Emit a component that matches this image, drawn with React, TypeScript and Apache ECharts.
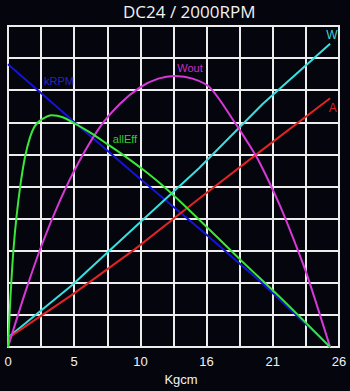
import React, { useEffect, useRef } from "react";
import * as echarts from "echarts";

// Motor characteristic curves, plotted as percent of full vertical scale
const chartTitle = "DC24 / 2000RPM";
const xAxisName = "Kgcm";
const xTickLabels = ["0", "5", "10", "16", "21", "26"];

const rpmTorque = [0, 5, 10, 15, 20, 25.3];
const rpmValues = [88.1, 70.8, 53.7, 37.0, 19.8, 0];

const effTorque = [0, 0.2, 0.43, 0.68, 1.0, 1.34, 1.73, 2.12, 2.65, 3.43, 4.3, 5.26, 6.5, 7.88, 9.2, 10.5, 11.94, 13.75, 16, 18.2, 21.4, 25.3];
const effValues = [0, 16.1, 30.4, 41.0, 51.2, 59.3, 65.3, 68.9, 70.9, 72.2, 71.6, 69.6, 66.7, 63.0, 59.4, 55.6, 51.0, 44.5, 35.9, 27.4, 15.4, 0];

const woutTorque = [0, 1.34, 2.65, 4.08, 5.5, 7.23, 8.8, 10.37, 11.8, 13.12, 14.5, 15.87, 17.67, 18.85, 19.8, 21.37, 22.54, 23.46, 25.3];
const woutValues = [0, 16.9, 31.8, 45.6, 57.2, 68.6, 75.8, 80.9, 83.6, 84.4, 83.6, 80.8, 70.8, 63.6, 57.2, 44.0, 32.5, 22.8, 0];

const wTorque = [0, 5, 10, 15, 20, 25.3];
const wValues = [3.0, 19.2, 37.5, 55.7, 75.7, 94.5];

const aTorque = [0, 5, 10, 15, 20, 25.3];
const aValues = [2.8, 16.2, 30.6, 46.2, 61.5, 77.5];

const pairs = (xs: number[], ys: number[]) => xs.map((x, i) => [x, ys[i]]);

type Curve = {
  name: string;
  color: string;
  textColor: string;
  data: number[][];
  smooth: number | boolean;
  labelAt: number[];
  labelSize: number;
};

const curves: Curve[] = [
  { name: "kRPM", color: "#1414d8", textColor: "#2424c8", data: pairs(rpmTorque, rpmValues), smooth: false, labelAt: [4.0, 82.8], labelSize: 11 },
  { name: "W", color: "#38e0e0", textColor: "#38d8d8", data: pairs(wTorque, wValues), smooth: false, labelAt: [25.45, 97.2], labelSize: 12 },
  { name: "A", color: "#e02424", textColor: "#d82020", data: pairs(aTorque, aValues), smooth: false, labelAt: [25.5, 74.6], labelSize: 12 },
  { name: "Wout", color: "#d838d8", textColor: "#c830c8", data: pairs(woutTorque, woutValues), smooth: 0.3, labelAt: [14.3, 86.8], labelSize: 11 },
  { name: "allEff", color: "#3ae83a", textColor: "#30d030", data: pairs(effTorque, effValues), smooth: 0.3, labelAt: [9.19, 64.8], labelSize: 11 },
];

export default function App() {
  const ref = useRef<HTMLDivElement>(null);

  useEffect(() => {
    if (!ref.current) return;
    const chart = echarts.init(ref.current, undefined, { renderer: "svg" });
    const gridColor = "#ececec";
    chart.setOption({
      animation: false,
      backgroundColor: "#05050d",
      title: {
        text: chartTitle,
        left: 123,
        top: 3,
        padding: 0,
        textStyle: { color: "#f2f2f2", fontFamily: "Open Sans", fontSize: 17, fontWeight: "normal" },
      },
      grid: {
        left: 8,
        right: 11,
        top: 26,
        bottom: 36,
        show: true,
        borderColor: gridColor,
        borderWidth: 2,
        backgroundColor: "transparent",
      },
      xAxis: {
        type: "value",
        min: 0,
        max: 26,
        interval: 2.6,
        name: xAxisName,
        nameLocation: "middle",
        nameGap: 19,
        nameTextStyle: { color: "#f2f2f2", fontFamily: "Liberation Sans", fontSize: 13, padding: [0, 0, 0, 15] },
        axisLine: { show: false },
        axisTick: { show: false },
        splitLine: { show: true, lineStyle: { color: gridColor, width: 2 } },
        axisLabel: {
          color: "#f2f2f2",
          fontFamily: "Liberation Sans",
          fontSize: 13,
          margin: 8,
          showMinLabel: true,
          showMaxLabel: true,
          formatter: (v: number) => {
            const k = Math.round(v / 2.6);
            return k % 2 === 0 ? xTickLabels[k / 2] : "";
          },
        },
      },
      yAxis: {
        type: "value",
        min: 0,
        max: 100,
        interval: 10,
        axisLine: { show: false },
        axisTick: { show: false },
        axisLabel: { show: false },
        splitLine: { show: true, lineStyle: { color: gridColor, width: 2 } },
      },
      series: curves.map((c) => ({
        name: c.name,
        type: "line",
        data: c.data,
        smooth: c.smooth,
        showSymbol: false,
        lineStyle: { color: c.color, width: 2 },
        itemStyle: { color: c.color },
        markPoint: {
          symbol: "circle",
          symbolSize: 1,
          itemStyle: { color: "transparent" },
          label: {
            show: true,
            position: "inside",
            formatter: c.name,
            color: c.textColor,
            fontFamily: "Liberation Sans",
            fontSize: c.labelSize,
          },
          data: [{ coord: c.labelAt }],
        },
      })),
    });
    return () => chart.dispose();
  }, []);

  return <div ref={ref} style={{ position: "fixed", left: 0, top: 0, width: 350, height: 391 }} />;
}
